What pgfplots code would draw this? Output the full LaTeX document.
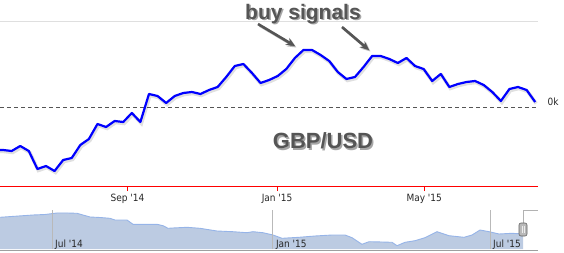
\documentclass[border=0pt]{standalone}
\usepackage{pgfplots}
\pgfplotsset{compat=1.18}
\usepackage{pgfplotstable}
\usepackage{fontspec}
\setmainfont{DejaVu Sans}
\newfontfamily\tickfont{DejaVu Sans Condensed}
\newfontfamily\boldfont{Liberation Sans}
\usetikzlibrary{arrows.meta}
\definecolor{navfill}{RGB}{188,203,226}
\definecolor{navline}{RGB}{150,180,232}
\definecolor{labgray}{RGB}{85,85,85}

\pgfplotstableread{
day value
-108.5 -4.3
-101.5 -4.3
-94.5 -4.4
-87.5 -3.9
-80.5 -4.4
-73.5 -6.2
-66.5 -5.9
-59.5 -6.4
-52.5 -5.3
-45.5 -5.1
-38.5 -3.8
-31.5 -3.2
-24.5 -1.7
-17.5 -2.0
-10.5 -1.4
-3.5 -1.5
3.5 -0.6
10.5 -1.5
17.5 1.3
24.5 1.1
31.5 0.4
38.5 1.1
45.5 1.4
52.5 1.5
59.5 1.3
66.5 1.7
73.5 2.0
80.5 3.0
87.5 4.1
94.5 4.3
101.5 3.4
108.5 2.4
115.5 2.7
122.5 3.1
129.5 3.8
136.5 4.9
143.5 5.7
150.5 5.7
157.5 5.2
164.5 4.6
171.5 3.5
178.5 2.8
185.5 3.0
192.5 4.0
199.5 5.1
206.5 5.1
213.5 4.8
220.5 4.4
227.5 4.9
234.5 4.1
241.5 3.8
248.5 2.6
255.5 3.3
262.5 2.0
269.5 2.3
276.5 2.5
283.5 2.6
290.5 2.2
297.5 1.5
304.5 0.6
311.5 1.8
318.5 2.0
325.5 1.7
332.5 0.5
}\maindata

\pgfplotstableread{
day value
-105.3 31.7
-77.8 34.0
-67.8 34.5
-57.8 36.0
-48.7 36.0
-41.2 35.7
-30.3 32.0
-22.0 31.5
-13.7 30.7
-9.5 29.0
0.5 29.0
5.5 24.7
13.8 24.7
25.5 24.7
30.5 23.3
34.7 20.7
38.8 21.0
50.5 21.7
61.3 20.7
75.5 18.0
88.8 17.3
100.5 16.3
105.5 17.3
113.8 16.3
122.2 14.0
129.7 10.7
143.8 11.7
157.2 13.0
171.3 14.0
182.2 14.0
188.0 11.3
196.3 4.7
202.2 7.3
213.0 7.0
221.3 6.7
225.5 3.3
232.2 6.7
240.5 8.3
248.8 11.3
258.8 17.3
268.8 13.3
281.3 11.7
288.0 14.0
294.7 19.0
302.2 17.3
310.5 15.0
321.3 15.7
330.5 15.0
}\navdata

\begin{document}
\begin{tikzpicture}
\path[use as bounding box] (0pt,0pt) rectangle (564pt,252pt);

% main chart
\begin{axis}[
  at={(0pt,66pt)}, anchor=south west, scale only axis,
  width=538pt, height=165pt,
  xmin=-104, xmax=334.8, ymin=-7.9, ymax=8.6,
  axis x line*=bottom, axis y line*=left,
  x axis line style={red, line width=0.9pt, -},
  y axis line style={draw=none},
  xtick={0,122,242},
  xticklabels={{Sep \textquotesingle 14},{Jan \textquotesingle 15},{May \textquotesingle 15}},
  tick align=outside, major tick length=5pt,
  xtick style={red, line width=0.8pt},
  ytick={8.6}, yticklabels={}, ytick style={draw=none},
  ymajorgrids, y grid style={gray!25, line width=0.8pt},
  xticklabel style={font=\tickfont\fontsize{10}{11}\selectfont, text=black!85, yshift=0pt},
]
\draw[labgray, dash pattern=on 4pt off 3pt, line width=0.8pt] (axis cs:-104,0) -- (axis cs:333,0);
\addplot[black, opacity=0.12, line width=3.5pt, shift={(1pt,-1.5pt)}] table[x=day,y=value] {\maindata};
\addplot[blue, line width=2.2pt, line join=round] table[x=day,y=value] {\maindata};
\end{axis}

% navigator
\begin{axis}[
  at={(0pt,3pt)}, anchor=south west, scale only axis,
  width=538pt, height=44pt,
  xmin=-105.33, xmax=343, ymin=0, ymax=44,
  axis line style={draw=none}, xtick=\empty, ytick=\empty,
]
\addplot[fill=navfill, draw=none] table[x=day,y=value] {\navdata} \closedcycle;
\addplot[navline, line width=0.9pt] table[x=day,y=value] {\navdata};
\draw[gray!55, line width=0.7pt] (axis cs:-62,0) -- (axis cs:-62,39);
\draw[gray!55, line width=0.7pt] (axis cs:122,0) -- (axis cs:122,39);
\draw[gray!55, line width=0.7pt] (axis cs:303,0) -- (axis cs:303,39);
\node[anchor=base west, font=\tickfont\fontsize{10}{11}\selectfont, text=black!85, inner sep=0pt] at (axis cs:-59.5,2) {Jul \textquotesingle 14};
\node[anchor=base west, font=\tickfont\fontsize{10}{11}\selectfont, text=black!85, inner sep=0pt] at (axis cs:124.5,2) {Jan \textquotesingle 15};
\node[anchor=base west, font=\tickfont\fontsize{10}{11}\selectfont, text=black!85, inner sep=0pt] at (axis cs:305.5,2) {Jul \textquotesingle 15};
\end{axis}

% navigator decorations
\draw[gray!75, line width=1.6pt] (0pt,1.5pt) -- (538pt,1.5pt);
\draw[gray!60, line width=0.8pt] (523pt,29pt) -- (523pt,42pt) -- (538pt,42pt);
\draw[gray!75!black, fill=gray!55, rounded corners=2pt, line width=0.6pt] (519pt,16pt) rectangle (527pt,29pt);
\draw[white!85!gray, line width=0.6pt] (522pt,19pt) -- (522pt,26pt);
\draw[white!85!gray, line width=0.6pt] (524pt,19pt) -- (524pt,26pt);

% 0k label
\node[font=\tickfont\fontsize{10}{11}\selectfont, text=black!85] at (553pt,150pt) {0k};

% annotations
\node[font=\boldfont\bfseries\fontsize{21}{24}\selectfont, text=black, opacity=0.35] at (304.5pt,236.5pt) {buy signals};
\node[font=\boldfont\bfseries\fontsize{21}{24}\selectfont, text=labgray] at (303pt,238pt) {buy signals};
\node[font=\boldfont\bfseries\fontsize{22}{25}\selectfont, text=black, opacity=0.35] at (324.5pt,109.5pt) {GBP/USD};
\node[font=\boldfont\bfseries\fontsize{22}{25}\selectfont, text=labgray] at (323pt,111pt) {GBP/USD};
\draw[black, opacity=0.25, line width=2.6pt, -{Stealth[length=9pt,width=8pt]}] (259.5pt,226.5pt) -- (296.5pt,204.5pt);
\draw[labgray, line width=2.6pt, -{Stealth[length=9pt,width=8pt]}] (258pt,228pt) -- (295pt,206pt);
\draw[black, opacity=0.25, line width=2.6pt, -{Stealth[length=9pt,width=8pt]}] (343.5pt,223.5pt) -- (370.5pt,200.5pt);
\draw[labgray, line width=2.6pt, -{Stealth[length=9pt,width=8pt]}] (342pt,225pt) -- (369pt,202pt);
\end{tikzpicture}
\end{document}
